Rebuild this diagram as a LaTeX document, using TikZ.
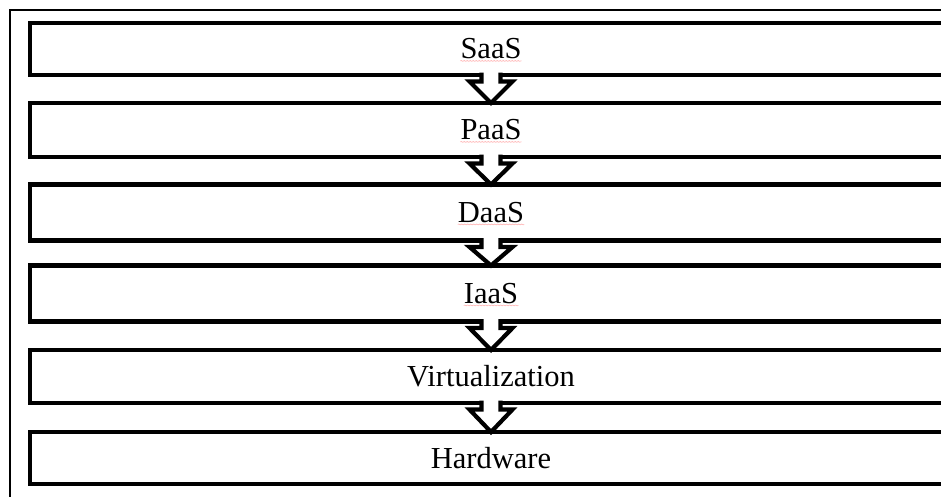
\documentclass[tikz,border=0pt]{standalone}
\usepackage{fontspec}
\setmainfont{Liberation Serif}
\usetikzlibrary{calc,decorations.pathmorphing}

% block arrow from the bottom of one layer to the top of the next
\newcommand\flowarrow[2]{%
  \fill[white] ($(#1.south)+(-9.5,-3)$) rectangle ($(#1.south)+(9.5,3)$);
  \draw[flow] ($(#1.south)+(-9.5,-2.4)$) -- ($(#1.south)+(-9.5,6.5)$)
    -- ($(#1.south)+(-21.5,6.5)$) -- (#2.north)
    -- ($(#1.south)+(21.5,6.5)$) -- ($(#1.south)+(9.5,6.5)$)
    -- ($(#1.south)+(9.5,-2.4)$);
}

\begin{document}
\begin{tikzpicture}[x=1pt,y=-1pt,
  layer/.style={draw=black, line width=4.8pt, fill=white, rectangle,
    minimum width=922pt, inner sep=0pt, outer sep=0pt},
  caption/.style={inner sep=0pt, font=\fontsize{30.5}{33}\selectfont},
  flow/.style={draw=black, line width=4.2pt, line join=miter, miter limit=10},
  spell/.style={draw=red!30, line width=0.6pt, decorate,
    decoration={snake, amplitude=0.4pt, segment length=3pt}}
]
\useasboundingbox (0,0) rectangle (941,497);
\clip (0,0) rectangle (941,497);

% outer frame
\draw[line width=2pt] (9.5,520) -- (9.5,10.5) -- (960,10.5);

% the layers
\node[layer, minimum height=52pt] (saas) at (491,49) {};
\node[layer, minimum height=54pt] (paas) at (491,130) {};
\node[layer, minimum height=56pt] (daas) at (491,212.5) {};
\node[layer, minimum height=56pt] (iaas) at (491,293.5) {};
\node[layer, minimum height=53pt] (virt) at (491,376.5) {};
\node[layer, minimum height=52pt] (hw)   at (491,458) {};

% arrows between the layers
\flowarrow{saas}{paas}
\flowarrow{paas}{daas}
\flowarrow{daas}{iaas}
\flowarrow{iaas}{virt}
\flowarrow{virt}{hw}

% captions
\node[caption] (saas-t) at (saas) {SaaS};
\node[caption] (paas-t) at (paas) {PaaS};
\node[caption] (daas-t) at (daas) {DaaS};
\node[caption] (iaas-t) at (iaas) {IaaS};
\node[caption] (virt-t) at (virt) {Virtualization};
\node[caption] (hw-t)   at (hw)   {Hardware};

% spell-check marks
\foreach \w in {saas-t,paas-t,daas-t,iaas-t}
  \draw[spell] ($(\w.base west)+(0,2)$) -- ($(\w.base east)+(0,2)$);
\end{tikzpicture}
\end{document}
